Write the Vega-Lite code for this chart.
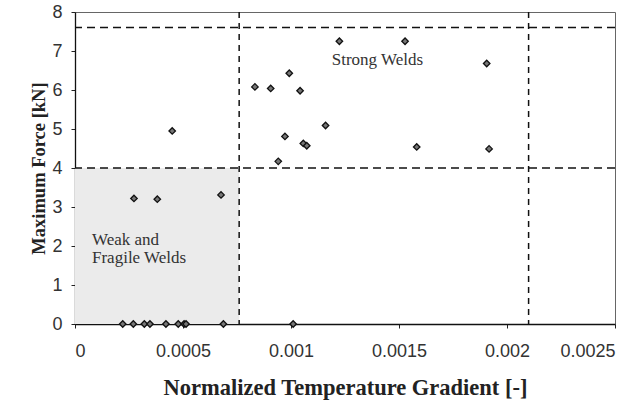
{
  "$schema": "https://vega.github.io/schema/vega-lite/v6.json",
  "width": 540,
  "height": 312,
  "autosize": "none",
  "padding": {"left": 75, "top": 12, "right": 28, "bottom": 81},
  "background": "white",
  "config": {
    "view": {"stroke": "#666", "strokeWidth": 1},
    "axis": {
      "grid": false,
      "domainColor": "#111",
      "domainWidth": 1.3,
      "tickColor": "#222",
      "tickSize": 4,
      "labelFont": "Liberation Sans",
      "labelFontSize": 18,
      "labelColor": "#333",
      "labelOverlap": false,
      "titleFont": "Liberation Serif",
      "titleFontWeight": "bold",
      "titleColor": "#222"
    }
  },
  "datasets": {
    "region": [{"x1": 0, "x2": 0.00076, "y1": 0, "y2": 4}],
    "hlines": [{"y": 7.6}, {"y": 4}],
    "vlines": [{"x": 0.00076}, {"x": 0.0021}],
    "points": [
      {"x": 0.001224, "y": 7.25},
      {"x": 0.001528, "y": 7.25},
      {"x": 0.001906, "y": 6.68},
      {"x": 0.000833, "y": 6.08},
      {"x": 0.000906, "y": 6.04},
      {"x": 0.000992, "y": 6.43},
      {"x": 0.001042, "y": 5.98},
      {"x": 0.00045, "y": 4.95},
      {"x": 0.00116, "y": 5.09},
      {"x": 0.000972, "y": 4.81},
      {"x": 0.001057, "y": 4.63},
      {"x": 0.001073, "y": 4.57},
      {"x": 0.000941, "y": 4.17},
      {"x": 0.001582, "y": 4.54},
      {"x": 0.001917, "y": 4.49},
      {"x": 0.000273, "y": 3.22},
      {"x": 0.000381, "y": 3.2},
      {"x": 0.000676, "y": 3.31},
      {"x": 0.000221, "y": 0},
      {"x": 0.00027, "y": 0},
      {"x": 0.000321, "y": 0},
      {"x": 0.000347, "y": 0},
      {"x": 0.000421, "y": 0},
      {"x": 0.000478, "y": 0},
      {"x": 0.000505, "y": 0},
      {"x": 0.000514, "y": 0},
      {"x": 0.000687, "y": 0},
      {"x": 0.00101, "y": 0}
    ],
    "strong": [
      {"x": 0.0014, "y": 6.77, "t": "Strong Welds"}
    ],
    "weak": [
      {"x": 0.0000787, "y": 2.15, "t": "Weak and"},
      {"x": 0.0000787, "y": 1.69, "t": "Fragile Welds"}
    ]
  },
  "layer": [
    {
      "data": {"name": "region"},
      "mark": {"type": "rect", "fill": "#ebebeb"},
      "encoding": {
        "x": {
          "field": "x1", "type": "quantitative",
          "scale": {"domain": [0, 0.0025], "nice": false, "zero": false},
          "axis": {
            "values": [0, 0.0005, 0.001, 0.0015, 0.002, 0.0025],
            "format": "~g",
            "labelFontSize": 18,
            "labelOverlap": false,
            "labelPadding": 14,
            "title": "Normalized Temperature Gradient [-]",
            "titleFontSize": 22.5,
            "titlePadding": 16
          }
        },
        "x2": {"field": "x2"},
        "y": {
          "field": "y1", "type": "quantitative",
          "scale": {"domain": [0, 8], "nice": false},
          "axis": {
            "values": [0, 1, 2, 3, 4, 5, 6, 7, 8],
            "tickCount": 9,
            "labelOverlap": false,
            "labelFontSize": 18,
            "labelPadding": 9,
            "labelExpr": "datum.label + '\u00a0\u00a0'",
            "title": "Maximum Force [kN]",
            "titleFontSize": 18.5,
            "titlePadding": 3
          }
        },
        "y2": {"field": "y2"}
      }
    },
    {
      "data": {"name": "hlines"},
      "mark": {"type": "rule", "color": "#111", "strokeWidth": 1.5, "strokeDash": [8, 5]},
      "encoding": {"y": {"field": "y", "type": "quantitative", "axis": {"values": [0, 1, 2, 3, 4, 5, 6, 7, 8], "tickCount": 9, "labelOverlap": false, "labelPadding": 9, "labelExpr": "datum.label + '\u00a0\u00a0'"}}}
    },
    {
      "data": {"name": "vlines"},
      "mark": {"type": "rule", "color": "#111", "strokeWidth": 1.5, "strokeDash": [6, 5]},
      "encoding": {"x": {"field": "x", "type": "quantitative"}}
    },
    {
      "data": {"name": "points"},
      "mark": {"type": "point", "shape": "diamond", "filled": true, "fill": "#777", "stroke": "#111", "strokeWidth": 1.3, "size": 42, "opacity": 1},
      "encoding": {
        "x": {"field": "x", "type": "quantitative"},
        "y": {"field": "y", "type": "quantitative", "axis": {"values": [0, 1, 2, 3, 4, 5, 6, 7, 8], "tickCount": 9, "labelOverlap": false, "labelPadding": 9, "labelExpr": "datum.label + '\u00a0\u00a0'"}}
      }
    },
    {
      "data": {"name": "strong"},
      "mark": {"type": "text", "font": "Liberation Serif", "fontSize": 17, "color": "#333", "baseline": "middle", "align": "center"},
      "encoding": {
        "x": {"field": "x", "type": "quantitative"},
        "y": {"field": "y", "type": "quantitative"},
        "text": {"field": "t"}
      }
    },
    {
      "data": {"name": "weak"},
      "mark": {"type": "text", "font": "Liberation Serif", "fontSize": 17, "color": "#333", "baseline": "middle", "align": "left"},
      "encoding": {
        "x": {"field": "x", "type": "quantitative"},
        "y": {"field": "y", "type": "quantitative"},
        "text": {"field": "t"}
      }
    }
  ]
}
